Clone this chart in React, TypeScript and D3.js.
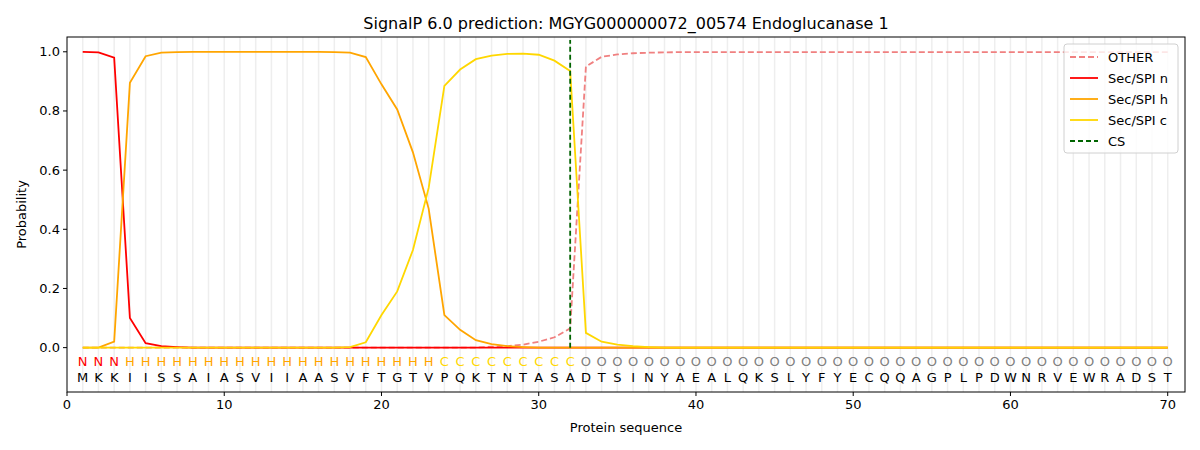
import React from 'react';
import * as d3 from 'd3';

const sequence = 'MKKIISSAIASVIIAASVFTGTVPQKTNTASADTSINYAEALQKSLYFYECQQAGPLPDWNRVEWRADST'.split('');
const labels = ('NNN' + 'H'.repeat(20) + 'C'.repeat(9) + 'O'.repeat(38)).split('');

const secN = [1.0, 0.998, 0.98, 0.1, 0.015, 0.005, 0.002];
const secH = [0, 0, 0.02, 0.895, 0.985, 0.997, 0.999, 1, 1, 1, 1, 1, 1, 1, 1, 1, 0.999, 0.997, 0.982, 0.89, 0.805, 0.66, 0.47, 0.11, 0.06, 0.025, 0.012, 0.005, 0.002];
const secC = [0, 0, 0, 0, 0, 0, 0, 0, 0, 0, 0, 0, 0, 0, 0, 0, 0, 0.002, 0.018, 0.11, 0.19, 0.33, 0.54, 0.885, 0.94, 0.975, 0.987, 0.993, 0.994, 0.99, 0.97, 0.935, 0.05, 0.02, 0.01, 0.005, 0.002];
const other = [0, 0, 0, 0, 0, 0, 0, 0, 0, 0, 0, 0, 0, 0, 0, 0, 0, 0, 0, 0, 0, 0, 0, 0, 0, 0, 0.003, 0.005, 0.01, 0.02, 0.035, 0.065, 0.95, 0.983, 0.991, 0.995, 0.997, 0.998, 0.999];
const csPos = 32;
const xTicks = [0, 10, 20, 30, 40, 50, 60, 70];
const yTicks = [0, 0.2, 0.4, 0.6, 0.8, 1.0];

const pad = (arr: number[], fill: number) => sequence.map((_, i) => (i < arr.length ? arr[i] : fill));

const series = [
  { name: 'OTHER', color: '#f08080', dash: '6,3', values: pad(other, 0.999) },
  { name: 'Sec/SPI n', color: '#ff0000', dash: '', values: pad(secN, 0) },
  { name: 'Sec/SPI h', color: '#ffa500', dash: '', values: pad(secH, 0) },
  { name: 'Sec/SPI c', color: '#ffd700', dash: '', values: pad(secC, 0) },
];

const labelColor: Record<string, string> = { N: '#ff0000', H: '#ffa500', C: '#ffd700', O: 'gray' };

export default function App() {
  const W = 1200, H = 450;
  const m = { l: 67, r: 15, t: 37, b: 58 };
  const x = d3.scaleLinear().domain([0, 71.1]).range([m.l, W - m.r]);
  const y = d3.scaleLinear().domain([-0.15, 1.05]).range([H - m.b, m.t]);
  const line = d3.line<number>().x((_, i) => x(i + 1)).y(d => y(d));
  const font = 'DejaVu Sans, sans-serif';

  return (
    <svg width={W} height={H} style={{ position: 'absolute', left: 0, top: 0, fontFamily: font }}>
      <rect width={W} height={H} fill="white" />
      {sequence.map((_, i) => (
        <line key={i} x1={x(i + 1)} x2={x(i + 1)} y1={m.t} y2={H - m.b} stroke="#eeeeee" strokeWidth={1.5} />
      ))}
      {series.map(s => (
        <path key={s.name} d={line(s.values) || ''} fill="none" stroke={s.color} strokeWidth={1.8} strokeDasharray={s.dash || undefined} />
      ))}
      <line x1={x(csPos)} x2={x(csPos)} y1={y(0)} y2={y(1.04)} stroke="#006400" strokeWidth={1.8} strokeDasharray="5,3" />
      {sequence.map((aa, i) => (
        <g key={i} fontSize={13} textAnchor="middle">
          <text x={x(i + 1)} y={y(-0.062)} fill={labelColor[labels[i]]}>{labels[i]}</text>
          <text x={x(i + 1)} y={y(-0.116)} fill="black">{aa}</text>
        </g>
      ))}
      <rect x={m.l} y={m.t} width={W - m.l - m.r} height={H - m.t - m.b} fill="none" stroke="black" strokeWidth={1} />
      {xTicks.map(t => (
        <g key={t}>
          <line x1={x(t)} x2={x(t)} y1={H - m.b} y2={H - m.b + 4} stroke="black" />
          <text x={x(t)} y={H - m.b + 17} fontSize={13} textAnchor="middle">{t}</text>
        </g>
      ))}
      {yTicks.map(t => (
        <g key={t}>
          <line x1={m.l - 4} x2={m.l} y1={y(t)} y2={y(t)} stroke="black" />
          <text x={m.l - 7} y={y(t) + 4.5} fontSize={13} textAnchor="end">{t.toFixed(1)}</text>
        </g>
      ))}
      <text x={(m.l + W - m.r) / 2} y={432} fontSize={13} textAnchor="middle">Protein sequence</text>
      <text transform={`translate(26,${(m.t + H - m.b) / 2}) rotate(-90)`} fontSize={13} textAnchor="middle">Probability</text>
      <text x={(m.l + W - m.r) / 2} y={29} fontSize={16} textAnchor="middle">SignalP 6.0 prediction: MGYG000000072_00574 Endoglucanase 1</text>
      <g transform="translate(1064,44)">
        <rect width={114} height={109} rx={3} fill="white" fillOpacity={0.8} stroke="#d0d0d0" />
        {[...series, { name: 'CS', color: '#006400', dash: '5,3' }].map((s, i) => (
          <g key={s.name} transform={`translate(6,${13 + i * 21})`}>
            <line x1={0} x2={28} y1={0} y2={0} stroke={s.color} strokeWidth={1.8} strokeDasharray={s.dash || undefined} />
            <text x={38} y={4.5} fontSize={13}>{s.name}</text>
          </g>
        ))}
      </g>
    </svg>
  );
}
